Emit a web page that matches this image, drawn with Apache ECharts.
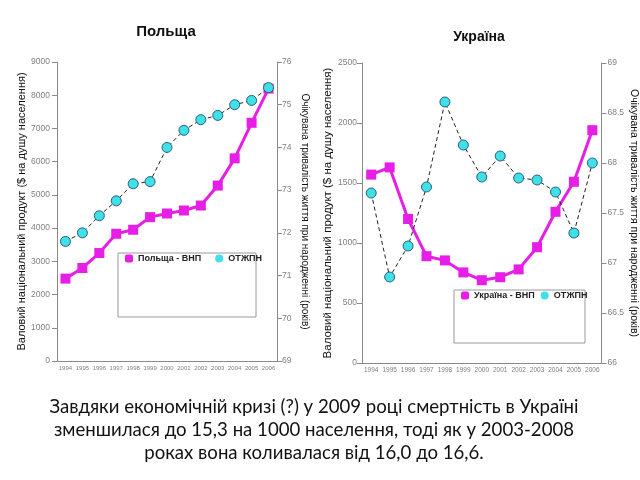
<!DOCTYPE html>
<html>
<head>
<meta charset="utf-8">
<script src="https://cdn.jsdelivr.net/npm/echarts@6/dist/echarts.min.js"></script>
<style>html,body{margin:0;padding:0;background:#fff}#c{width:640px;height:480px}</style>
</head>
<body>
<div id="c"></div>
<script>
const years = ['1994','1995','1996','1997','1998','1999','2000','2001','2002','2003','2004','2005','2006'];
const polandGNP = [2480,2800,3250,3830,3950,4330,4440,4530,4680,5280,6100,7170,8200];
const polandLE = [71.8,72.0,72.4,72.75,73.15,73.2,74.0,74.4,74.65,74.75,75.0,75.1,75.4];
const ukraineGNP = [1570,1630,1200,890,855,755,690,715,780,965,1260,1510,1940];
const ukraineLE = [67.7,66.86,67.17,67.76,68.61,68.18,67.86,68.07,67.85,67.83,67.71,67.3,68.0];
const titles = ['Польща','Україна'];
const gnpAxisName = 'Валовий національний продукт ($ на душу населення)';
const leAxisName = 'Очікувана тривалість життя при народженні (років)';
const noteLines = [
  'Завдяки економічній кризі (?) у 2009 році смертність в Україні',
  'зменшилася до 15,3 на 1000 населення, тоді як у 2003-2008',
  'роках вона коливалася від 16,0 до 16,6.'
];

const MAG = '#e61ee6', CYAN = '#3fe0e8', CYB = '#2b5f80', AX = '#8a8a8a', LBL = '#808080';
const chart = echarts.init(document.getElementById('c'), null, {renderer:'canvas'});

function xAx(gi, fs){
  return {type:'category', gridIndex:gi, data:years, boundaryGap:true,
    axisLine:{lineStyle:{color:AX}}, axisTick:{length:4, lineStyle:{color:AX}},
    axisLabel:{interval:0, fontSize:fs, color:LBL, margin:4, fontFamily:'Arial'}};
}
function yAx(gi, pos, min, max, interval, name, gap, rot, nfs, margin){
  return {type:'value', gridIndex:gi, position:pos, min, max, interval,
    name, nameLocation:'middle', nameGap:gap, nameRotate:rot,
    nameTextStyle:{fontSize:nfs, color:'#111', fontFamily:'Arial'},
    splitLine:{show:false},
    axisLine:{show:true, lineStyle:{color:AX}},
    axisTick:{show:true, length:5, lineStyle:{color:AX}},
    axisLabel:{fontSize:8.5, color:LBL, margin, fontFamily:'Arial', formatter:v => String(v)}};
}
function gnpSeries(name, xi, yi, data){
  return {name, type:'line', xAxisIndex:xi, yAxisIndex:yi, data,
    symbol:'rect', symbolSize:10, lineStyle:{color:MAG, width:3},
    itemStyle:{color:MAG}, z:3};
}
function leSeries(name, xi, yi, data){
  return {name, type:'line', xAxisIndex:xi, yAxisIndex:yi, data,
    symbol:'circle', symbolSize:10, lineStyle:{color:'#222', width:1, type:[4,3]},
    itemStyle:{color:CYAN, borderColor:CYB, borderWidth:1}, z:4};
}

const option = {
  animation:false,
  backgroundColor:'#fff',
  grid:[
    {left:57, right:363, top:62, bottom:119},
    {left:362, right:33, top:63, bottom:117}
  ],
  xAxis:[xAx(0,6), xAx(1,6.5)],
  yAxis:[
    yAx(0,'left',0,9000,1000,gnpAxisName,30,90,11,7),
    yAx(0,'right',69,76,1,leAxisName,23,-90,10,5),
    yAx(1,'left',0,2500,500,gnpAxisName,28,90,11.5,5),
    yAx(1,'right',66,69,0.5,leAxisName,21,-90,10.5,6)
  ],
  legend:[
    {left:125, top:254, itemWidth:8, itemHeight:8, itemGap:14, padding:0,
     textStyle:{fontSize:9, fontWeight:'bold', color:'#222', fontFamily:'Arial'},
     data:[{name:'Польща - ВНП', icon:'roundRect'},{name:'ОТЖПН', icon:'circle', itemStyle:{borderWidth:0}}]},
    {left:461, top:291, itemWidth:8, itemHeight:8, itemGap:6, padding:0,
     textStyle:{fontSize:9, fontWeight:'bold', color:'#222', fontFamily:'Arial'},
     data:[{name:'Україна - ВНП', icon:'roundRect'},{name:'ОТЖПН', icon:'circle', itemStyle:{borderWidth:0}}]}
  ],
  series:[
    gnpSeries('Польща - ВНП',0,0,polandGNP),
    leSeries('ОТЖПН',0,1,polandLE),
    gnpSeries('Україна - ВНП',1,2,ukraineGNP),
    leSeries('ОТЖПН',1,3,ukraineLE)
  ],
  graphic:[
    {type:'rect', shape:{x:118, y:253, width:138, height:64}, style:{fill:'#fff', stroke:'#9a9a9a', lineWidth:1}, z:0},
    {type:'rect', shape:{x:454, y:290, width:131, height:53}, style:{fill:'#fff', stroke:'#9a9a9a', lineWidth:1}, z:0},
    {type:'text', x:166, y:32, style:{text:titles[0], font:'bold 15px Arial', fill:'#111', align:'center', verticalAlign:'middle'}},
    {type:'text', x:479, y:37, style:{text:titles[1], font:'bold 14px Arial', fill:'#111', align:'center', verticalAlign:'middle'}},
    {type:'text', x:314, y:407, style:{text:noteLines[0], font:'18.6px Lato', fill:'#111', align:'center', verticalAlign:'middle'}},
    {type:'text', x:314, y:430, style:{text:noteLines[1], font:'18.6px Lato', fill:'#111', align:'center', verticalAlign:'middle'}},
    {type:'text', x:314, y:453, style:{text:noteLines[2], font:'18.6px Lato', fill:'#111', align:'center', verticalAlign:'middle'}}
  ]
};
chart.setOption(option);
</script>
</body>
</html>
